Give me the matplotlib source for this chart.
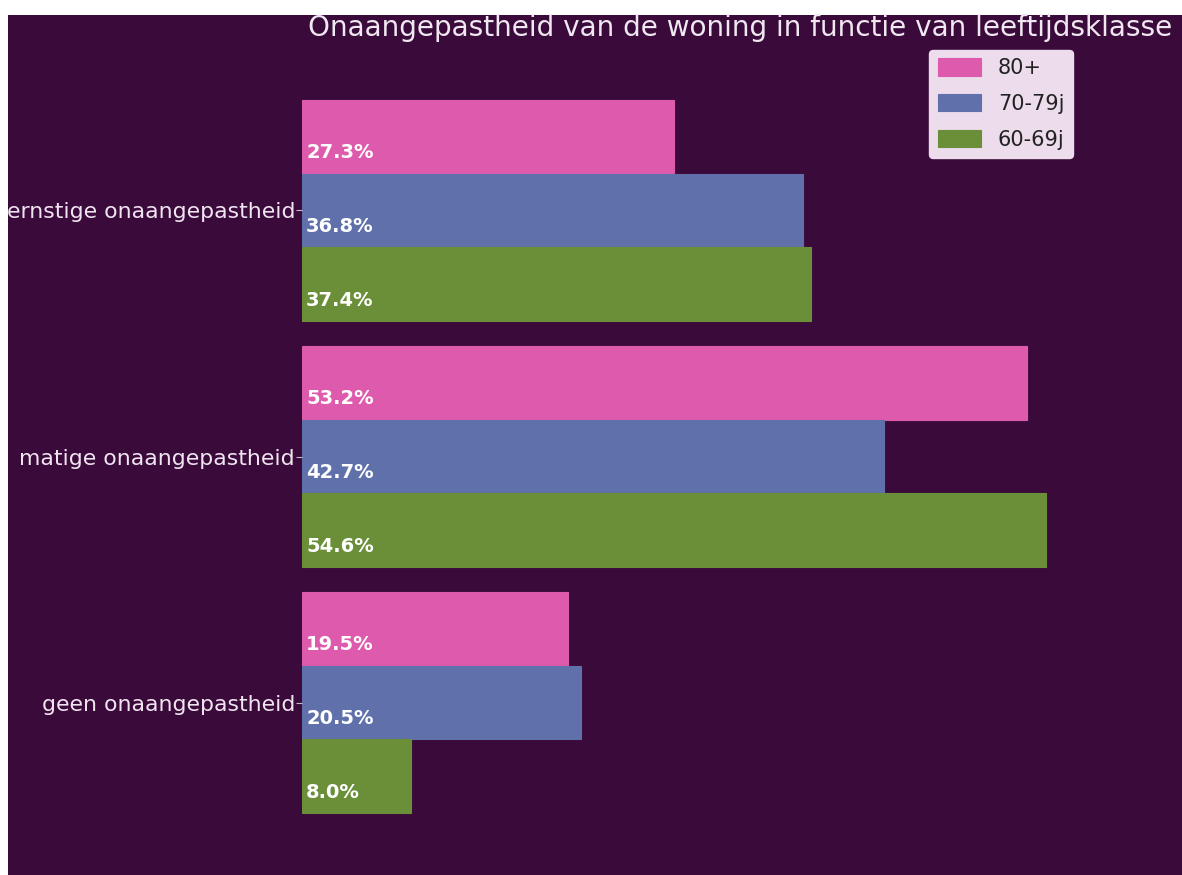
import matplotlib.pyplot as plt
import numpy as np
from matplotlib.patches import Rectangle

# Data
categories = ['geen onaangepastheid', 'matige onaangepastheid', 'ernstige onaangepastheid']
groups = ['80+', '70-79j', '60-69j']
pct_80 = [19.5, 53.2, 27.3]
pct_70 = [20.5, 42.7, 36.8]
pct_60 = [8.0, 54.6, 37.4]
colors = ['#de5aad', '#5f70ab', '#6a8f38']

bg = '#3a0a3a'
W, H = 1182, 875

fig = plt.figure(figsize=(W / 100, H / 100), dpi=100, facecolor='white')
# dark panel (screenshot is cropped at top/left)
fig.patches.append(Rectangle((8 / W, 0), 1 - 8 / W, 1 - 15 / H, transform=fig.transFigure,
                             facecolor=bg, edgecolor='none', zorder=-10))

ax = fig.add_axes([302 / W, 1 - 849 / H, (1083 - 302) / W, (849 - 64) / H])
ax.set_facecolor(bg)

y = np.arange(len(categories))
h = 0.3
series = [pct_80, pct_70, pct_60]
offsets = [h, 0, -h]
for vals, off, col, lab in zip(series, offsets, colors, groups):
    bars = ax.barh(y + off, vals, height=h, color=col, label=lab,
                   edgecolor=col, linewidth=0.8)
    for b, v in zip(bars, vals):
        ax.text(0.3, b.get_y() + b.get_height() / 2 - 0.065, f'{v:.1f}%',
                color='white', fontsize=14, fontweight='bold', va='center', ha='left')

ax.set_xlim(0, 57.33)
ax.set_ylim(-0.595, 2.595)
ax.set_yticks(y)
ax.set_yticklabels(categories, fontsize=15.8, color='#f0e4f0')
ax.set_xticks([])
ax.tick_params(axis='y', colors='#c8b8c8', length=4, pad=1, labelcolor='#f0e4f0')
for s in ax.spines.values():
    s.set_visible(False)

fig.text(1172 / W, 1 - 28 / H, 'Onaangepastheid van de woning in functie van leeftijdsklasse',
         ha='right', va='center', fontsize=20.1, color='#f0e8f0')

leg = fig.legend(loc='upper right', bbox_to_anchor=(1073 / W, 1 - 50 / H), fontsize=15,
                 facecolor='#ecdcec', edgecolor='#ecdcec', framealpha=1, borderaxespad=0,
                 handlelength=2.1, handleheight=0.9, labelspacing=0.75)
for t in leg.get_texts():
    t.set_color('#222222')

fig.savefig('out.png', dpi=100, facecolor=fig.get_facecolor())
